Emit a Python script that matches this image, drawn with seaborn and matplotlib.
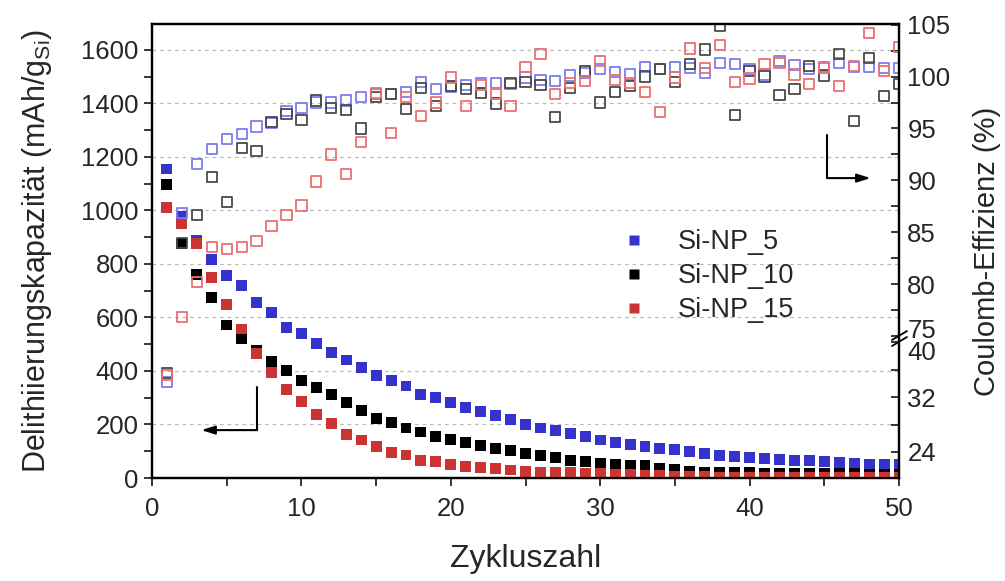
import numpy as np
import pandas as pd
import matplotlib
matplotlib.use("Agg")
import matplotlib.pyplot as plt
import matplotlib.transforms as mtransforms
import seaborn as sns

# ---------------- data ----------------
cycles = list(range(1, 51))

cap_5 = [1155, 977, 887, 818, 756, 719, 657, 619, 563, 541,
         501, 470, 441, 412, 383, 365, 344, 313, 300, 282,
         263, 247, 234, 218, 201, 187, 178, 167, 154, 142,
         132, 126, 117, 111, 105, 98, 92, 85, 81, 78,
         72, 70, 67, 64, 61, 57, 55, 52, 51, 49]
cap_10 = [1097, 878, 762, 674, 572, 522, 478, 437, 401, 366,
          339, 313, 283, 251, 224, 207, 187, 172, 154, 145,
          131, 122, 111, 102, 93, 85, 76, 66, 60, 56,
          51, 46, 45, 36, 32, 26, 22, 21, 20, 19,
          18, 18, 17, 17, 16, 16, 16, 15, 15, 15]
cap_15 = [1011, 953, 875, 749, 649, 557, 466, 395, 331, 285,
          238, 204, 164, 142, 117, 97, 86, 65, 60, 52,
          42, 40, 36, 30, 24, 21, 20, 19, 18, 17,
          15, 12, 11, 9, 7, 5, 4, 3, 3, 3,
          3, 3, 3, 3, 3, 3, 3, 3, 3, 3]

ce_5 = [34.2, 86.9, 91.6, 93.0, 94.0, 94.5, 95.2, 95.5, 96.7, 97.0,
        97.5, 97.5, 97.7, 98.0, 98.3, 98.3, 98.5, 99.5, 98.8, 99.0,
        99.2, 99.4, 99.4, 99.3, 99.9, 99.7, 99.6, 100.1, 100.3, 100.7,
        100.4, 100.2, 100.9, 100.7, 100.9, 100.8, 100.3, 101.3, 101.2, 100.7,
        100.2, 101.5, 101.1, 100.7, 100.9, 101.3, 100.9, 100.9, 100.8, 100.8]
ce_10 = [35.5, 84.0, 86.7, 90.3, 87.9, 93.1, 92.8, 95.6, 96.4, 95.8,
         97.7, 97.0, 96.8, 95.0, 98.0, 98.3, 96.9, 98.9, 97.2, 99.1,
         98.8, 98.4, 97.4, 99.4, 99.5, 99.2, 96.1, 98.9, 100.5, 97.5,
         98.5, 99.1, 100.0, 100.7, 99.5, 101.2, 102.6, 104.9, 96.3, 100.5,
         100.0, 98.2, 98.8, 101.0, 100.1, 102.2, 95.7, 101.8, 98.1, 99.3]
ce_15 = [35.2, 76.9, 80.2, 83.6, 83.4, 83.6, 84.2, 85.6, 86.7, 87.6,
         89.9, 92.5, 90.6, 93.7, 98.4, 94.6, 98.0, 96.2, 97.5, 99.9,
         97.2, 99.2, 98.3, 97.2, 100.9, 102.2, 98.3, 99.4, 99.6, 101.5,
         99.7, 99.4, 98.5, 96.6, 99.9, 102.7, 100.8, 103.0, 99.5, 99.8,
         101.2, 101.3, 100.2, 99.3, 100.8, 99.1, 101.0, 104.2, 100.5, 102.8]

series_names = ["Si-NP_5", "Si-NP_10", "Si-NP_15"]
x_ticks = [0, 10, 20, 30, 40, 50]
cap_ticks = [0, 200, 400, 600, 800, 1000, 1200, 1400, 1600]
ce_ticks = [24, 32, 40, 75, 80, 85, 90, 95, 100, 105]
ce_minor = [28, 36, 77.5, 82.5, 87.5, 92.5, 97.5, 102.5]

# ---------------- style ----------------
sns.set_style("ticks")
plt.rcParams["font.family"] = ["Liberation Sans", "DejaVu Sans"]
plt.rcParams["mathtext.fontset"] = "custom"
plt.rcParams["mathtext.rm"] = "Liberation Sans"
plt.rcParams["mathtext.it"] = "Liberation Sans:italic"

fill_cols = ["#3434cc", "#000000", "#cc3333"]
open_cols = ["#7c7cf0", "#4a4a4a", "#ec7070"]

fig = plt.figure(figsize=(10.05, 5.81), dpi=100)
ax = fig.add_axes([152 / 1005, 1 - 478 / 581, (899 - 152) / 1005, (478 - 24) / 581])
ax2 = ax.twinx()

caps = [cap_5, cap_10, cap_15]
ces = [ce_5, ce_10, ce_15]

for name, cap, col in zip(series_names, caps, fill_cols):
    df = pd.DataFrame({"cycle": cycles, "cap": cap})
    sns.scatterplot(data=df, x="cycle", y="cap", ax=ax, marker="s", s=62,
                    color=col, edgecolor="none", linewidth=0,
                    legend=False, zorder=3)

# broken right axis: piecewise linear scale
seg_v = np.array([20.2, 40.0, 75.0, 105.0])
seg_h = np.array([0.0, 136.1, 142.0, 454.9])


def fwd(v):
    v = np.asarray(v, dtype=float)
    out = np.interp(v, seg_v, seg_h)
    s0 = (seg_h[1] - seg_h[0]) / (seg_v[1] - seg_v[0])
    s1 = (seg_h[-1] - seg_h[-2]) / (seg_v[-1] - seg_v[-2])
    out = np.where(v < seg_v[0], seg_h[0] + (v - seg_v[0]) * s0, out)
    out = np.where(v > seg_v[-1], seg_h[-1] + (v - seg_v[-1]) * s1, out)
    return out


def inv(h):
    h = np.asarray(h, dtype=float)
    out = np.interp(h, seg_h, seg_v)
    s0 = (seg_v[1] - seg_v[0]) / (seg_h[1] - seg_h[0])
    s1 = (seg_v[-1] - seg_v[-2]) / (seg_h[-1] - seg_h[-2])
    out = np.where(h < seg_h[0], seg_v[0] + (h - seg_h[0]) * s0, out)
    out = np.where(h > seg_h[-1], seg_v[-1] + (h - seg_h[-1]) * s1, out)
    return out


ax2.set_yscale("function", functions=(fwd, inv))

for ce, col in zip(ces, open_cols):
    df = pd.DataFrame({"cycle": cycles, "ce": ce})
    sns.scatterplot(data=df, x="cycle", y="ce", ax=ax2, marker="s", s=54,
                    facecolors="none", edgecolor=col, linewidth=1.3,
                    legend=False, zorder=2)

# ---------------- axes ----------------
ax.set_xlim(0, 50)
ax.set_ylim(0, 1697)
ax2.set_ylim(20.2, 105.05)

ax.set_xticks(x_ticks)
ax.set_xticks(np.arange(5, 50, 10), minor=True)
ax.set_yticks(cap_ticks)
ax.set_yticks(np.arange(100, 1700, 200), minor=True)
ax2.set_yticks(ce_ticks)
ax2.set_yticklabels([str(t) for t in ce_ticks])
ax2.set_yticks(ce_minor, minor=True)
ax2.yaxis.set_minor_formatter(matplotlib.ticker.NullFormatter())

ax.yaxis.grid(True, which="major", linestyle=(0, (3, 3)), color="#bbbbbb", linewidth=0.9)
ax.xaxis.grid(False)

tick_fs = 18.5
ax.tick_params(axis="both", which="both", direction="out", length=6, width=1.3,
               labelsize=tick_fs, top=False, right=False)
ax.tick_params(axis="x", which="both", pad=8)
ax2.tick_params(axis="y", which="both", direction="in", length=6, width=1.3,
                labelsize=tick_fs, pad=6)
for a in (ax, ax2):
    for sp in a.spines.values():
        sp.set_linewidth(1.6)
        sp.set_color("black")
        sp.set_visible(True)

# separate the touching 75 / 40 labels slightly
fig.canvas.draw()
for lab in ax2.get_yticklabels():
    if lab.get_text() == "75":
        lab.set_transform(lab.get_transform() + mtransforms.ScaledTranslation(0, 6 / 72, fig.dpi_scale_trans))
    elif lab.get_text() == "40":
        lab.set_transform(lab.get_transform() + mtransforms.ScaledTranslation(0, -6 / 72, fig.dpi_scale_trans))

ax.set_xlabel("Zykluszahl", fontsize=23, labelpad=16)
ax.set_ylabel("Delithiierungskapazität (mAh/g$_\\mathregular{Si}$)", fontsize=22, labelpad=20)
ax2.set_ylabel("Coulomb-Effizienz (%)", fontsize=21, labelpad=16)

ax2.set_zorder(ax.get_zorder() + 1)
ax2.patch.set_visible(False)

# legend (filled markers)
from matplotlib.lines import Line2D
leg_handles = [Line2D([], [], linestyle="none", marker="s", markersize=6.5,
                      markerfacecolor=c, markeredgecolor="none") for c in fill_cols]
ax2.legend(leg_handles, series_names, loc="upper left",
           bbox_to_anchor=(622 / 1005, 1 - 229 / 581), bbox_transform=fig.transFigure,
           frameon=False, fontsize=19.5, handlelength=0.9, handletextpad=1.15,
           labelspacing=0.3, borderpad=0, borderaxespad=0)

# direction arrows
ax.annotate("", xy=(3.3, 179), xytext=(7.03, 179),
            arrowprops=dict(arrowstyle="-|>,head_length=0.8,head_width=0.25", color="black", lw=1.5,
                            shrinkA=0, shrinkB=0))
ax.plot([7.03, 7.03], [179, 341], color="black", lw=1.5)
ax.annotate("", xy=(48.1, 1121), xytext=(45.2, 1121),
            arrowprops=dict(arrowstyle="-|>,head_length=0.8,head_width=0.25", color="black", lw=1.5,
                            shrinkA=0, shrinkB=0))
ax.plot([45.2, 45.2], [1121, 1282], color="black", lw=1.5)

# break marks on right spine
W, H = 747.0, 454.0
for dy in (0, 6):
    x0, y0 = 892, 346 - dy
    x1, y1 = 907, 337 - dy
    ax2.plot([(x0 - 152) / W, (x1 - 152) / W], [(478 - y0) / H, (478 - y1) / H],
             transform=ax2.transAxes, color="black", lw=1.3, clip_on=False)

fig.savefig("out.png", dpi=100)
